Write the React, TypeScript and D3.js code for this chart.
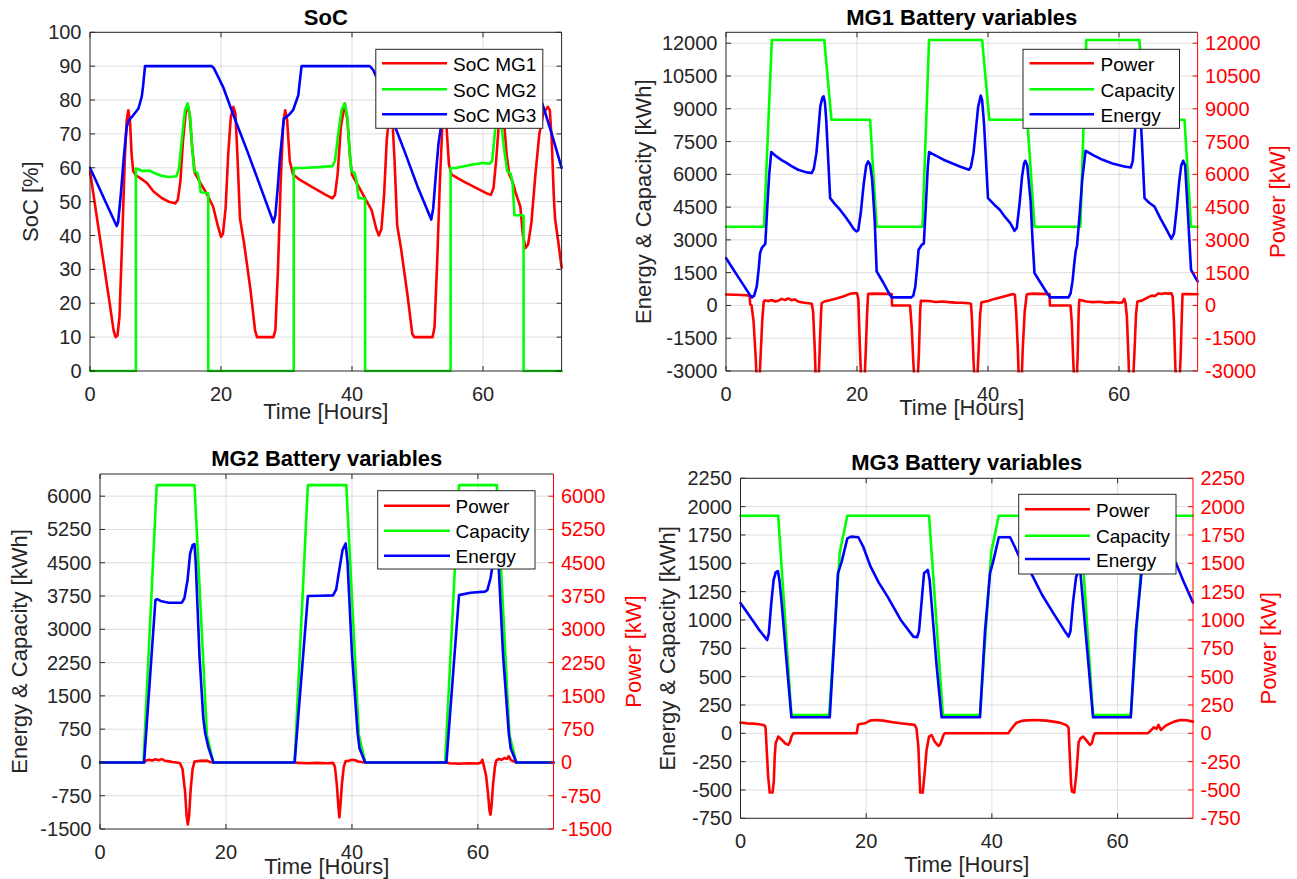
import React from 'react';
import * as d3 from 'd3';

type Pt = [number, number];

// ---------- tick values ----------
const HOUR_TICKS = [0, 20, 40, 60];
const SOC_TICKS = [0, 10, 20, 30, 40, 50, 60, 70, 80, 90, 100];
const MG1_TICKS = [-3000, -1500, 0, 1500, 3000, 4500, 6000, 7500, 9000, 10500, 12000];
const MG2_TICKS = [-1500, -750, 0, 750, 1500, 2250, 3000, 3750, 4500, 5250, 6000];
const MG3_TICKS = [-750, -500, -250, 0, 250, 500, 750, 1000, 1250, 1500, 1750, 2000, 2250];

// ---------- SoC [%] vs time [h] ----------
const socMG1: Pt[] = [
  [0, 59], [1, 46], [2, 33], [3, 20], [3.6, 12], [3.9, 10], [4.2, 10.5], [4.5, 16], [4.9, 38], [5.3, 62], [5.6, 74], [5.85, 77],
  [6.1, 74], [6.35, 64], [6.6, 59], [7, 57.8], [8, 56.5], [8.7, 55.5], [9.7, 53], [11, 51], [12, 50], [13, 49.5], [13.4, 50.5],
  [13.8, 56], [14.2, 68], [14.6, 76], [14.9, 78.5], [15.2, 76], [15.6, 66], [16, 58.5], [17, 55], [17.8, 52.4], [18.8, 48.5],
  [19.5, 43], [20, 39.6], [20.3, 40.5], [20.7, 48], [21.1, 64], [21.5, 75], [21.9, 78], [22.2, 76], [22.5, 64], [22.9, 45],
  [23.5, 38], [24.5, 24], [25.2, 12], [25.5, 10], [28, 10], [28.3, 12], [28.7, 30], [29.1, 55], [29.5, 73], [29.8, 77],
  [30.1, 74], [30.5, 62], [31, 58], [32, 56.5], [34, 54.2], [36, 52], [37, 51], [37.4, 52], [37.8, 58], [38.3, 72], [38.9, 79],
  [39.3, 74], [39.7, 63], [40, 58], [41, 54.5], [42, 51], [43, 47.5], [43.7, 42], [44.1, 40], [44.5, 42], [44.9, 52], [45.3, 68],
  [45.8, 78], [46.1, 77], [46.5, 62], [46.9, 43], [47.5, 36], [48.5, 22], [49.2, 11], [49.5, 10], [52.3, 10], [52.6, 13],
  [53, 32], [53.4, 55], [53.8, 73], [54.1, 77], [54.4, 73], [54.8, 61], [55.2, 58], [57, 56], [59, 54], [60.5, 52.5], [61.2, 52],
  [61.6, 54], [62, 62], [62.5, 75], [62.8, 78], [63.2, 74], [63.6, 64], [64, 58], [64.5, 56], [65, 52.5], [65.7, 48.5],
  [66.1, 40], [66.5, 36.3], [66.9, 37.5], [67.4, 44], [68, 58], [68.6, 70], [69.2, 76], [69.9, 78], [70.2, 77], [70.5, 68],
  [70.8, 52], [71, 45], [71.5, 38], [72, 30.5],
];
const socMG2: Pt[] = [
  [0, 0], [7.0, 0], [7.0, 59.8], [7.5, 59.5], [8, 59], [9, 59.2], [10, 58.3], [11, 57.6], [12, 57.3], [13.2, 57.5], [13.6, 60],
  [14, 68], [14.5, 77], [14.9, 79], [15.3, 75], [15.6, 66], [15.9, 59], [16.4, 58.5], [16.7, 56], [16.9, 52.8], [18.05, 52.5],
  [18.05, 0], [31.1, 0], [31.1, 59.9], [33, 60], [35, 60.2], [37, 60.5], [37.4, 62], [37.9, 70], [38.4, 77], [38.9, 79],
  [39.3, 75], [39.6, 66], [39.9, 59], [40.4, 58.5], [40.7, 56], [41, 51], [41.8, 51], [42, 50.8], [42, 0], [55.05, 0],
  [55.05, 59.9], [56, 60], [58, 60.8], [60, 61.4], [61, 61.2], [61.4, 62], [61.8, 70], [62.2, 78], [62.6, 76], [63.2, 66],
  [63.7, 59], [64.2, 58.3], [64.5, 56], [64.8, 46], [66, 46], [66.2, 45.8], [66.2, 0], [72, 0],
];
const socMG3: Pt[] = [
  [0, 60], [1, 55.8], [2, 51.5], [3, 47.3], [4.07, 42.8], [4.3, 44], [4.7, 52], [5.2, 64], [5.6, 72], [5.9, 74], [6.6, 75.5],
  [7.4, 77.5], [7.9, 81], [8.1, 84], [8.4, 90], [18.6, 90], [18.9, 89.4], [19.4, 87.5], [20.4, 83.5], [21.9, 75.5], [24, 65],
  [26, 54.5], [28, 43.9], [28.3, 46], [28.7, 55], [29, 63], [29.6, 74.5], [30.3, 75.5], [31, 77], [31.8, 81.4], [32, 85],
  [32.3, 90], [42.7, 90], [43.2, 89], [43.8, 86.5], [46.5, 72.5], [48, 65], [50, 54.5], [52.1, 44.7], [52.4, 48], [52.8, 58],
  [53.2, 67], [53.6, 72.5], [54.2, 75.5], [55, 77.5], [55.7, 81], [56, 85], [56.3, 90], [66.7, 90], [67, 89.4], [67.5, 87.5],
  [69.3, 77.5], [70.5, 70], [72, 60],
];

// ---------- MG1 battery ----------
const mg1Capacity: Pt[] = [
  [0, 3600], [5.8, 3600], [7.0, 12150], [15.0, 12150], [16.1, 8500], [22.0, 8500], [23.0, 3600], [30.0, 3600], [31.0, 12150],
  [39.1, 12150], [40.2, 8500], [46.0, 8500], [47.1, 3600], [54.1, 3600], [55.0, 12150], [63.1, 12150], [64.1, 8500],
  [70.0, 8500], [71.0, 3600], [72, 3600],
];
const mg1Energy: Pt[] = [
  [0, 2170], [1, 1700], [2, 1240], [3, 780], [3.7, 450], [3.95, 370], [4.3, 450], [4.7, 870], [5.0, 1700], [5.2, 2400],
  [5.5, 2650], [5.8, 2750], [6.0, 2820], [6.3, 4500], [6.6, 6000], [6.9, 7020], [7.7, 6820], [8.5, 6650], [9.3, 6515],
  [10, 6380], [11, 6210], [12.3, 6090], [13.1, 6060], [13.4, 6250], [13.8, 6970], [14.1, 8000], [14.4, 9110], [14.7, 9500],
  [14.9, 9570], [15.1, 9300], [15.3, 8500], [15.6, 6700], [15.9, 4910], [16.6, 4650], [17.4, 4380], [18.2, 4070], [18.9, 3770],
  [19.5, 3500], [19.9, 3390], [20.2, 3450], [20.6, 4300], [21.0, 5500], [21.4, 6400], [21.7, 6590], [22.0, 6450], [22.3, 5800],
  [22.7, 3920], [23.0, 1560], [24, 1050], [25.0, 500], [25.3, 370], [28.3, 370], [28.6, 450], [28.9, 870], [29.2, 1800],
  [29.4, 2550], [29.9, 2780], [30.2, 2830], [30.5, 4500], [30.8, 6300], [31.0, 7020], [33.2, 6670], [35.7, 6360], [37.1, 6210],
  [37.4, 6350], [37.8, 7000], [38.2, 8200], [38.5, 9100], [38.9, 9600], [39.1, 9400], [39.4, 8300], [39.7, 6600], [40.0, 4910],
  [41.0, 4600], [41.8, 4380], [42.6, 4050], [43.4, 3770], [44.05, 3416], [44.4, 3550], [44.8, 4600], [45.2, 5900], [45.5, 6500],
  [45.7, 6620], [46.0, 6400], [46.5, 4800], [46.8, 3000], [47.1, 1480], [48, 1050], [49, 570], [49.5, 370], [52.3, 370],
  [52.6, 550], [52.9, 1100], [53.2, 2000], [53.4, 2500], [53.6, 2745], [54.0, 4200], [54.4, 5800], [54.9, 7076], [56.2, 6860],
  [57.5, 6664], [59, 6500], [60.8, 6360], [61.8, 6313], [62.1, 6600], [62.4, 7800], [62.7, 9000], [62.95, 9580], [63.2, 9200],
  [63.5, 7500], [63.9, 4910], [64.6, 4700], [65.4, 4530], [66.3, 4000], [67.2, 3500], [68.0, 3050], [68.4, 3300], [68.8, 4400],
  [69.2, 5700], [69.5, 6400], [69.8, 6620], [70.1, 6400], [70.5, 4300], [71.0, 1630], [72, 1100],
];
const mg1Power: Pt[] = [
  [0, 500], [1.5, 490], [3, 470], [3.6, 450], [3.7, 50], [3.9, 0], [4.2, -700], [4.5, -2200], [4.75, -3800], [5.05, -3800],
  [5.3, -2200], [5.55, -600], [5.75, 150], [5.9, 230], [6.5, 200], [7, 250], [7.5, 180], [8, 220], [8.5, 300], [9, 250],
  [9.5, 320], [10, 240], [10.5, 280], [11, 180], [11.5, 150], [12, 120], [12.6, 100], [13.1, 80], [13.3, -300], [13.55, -2000],
  [13.75, -3800], [14.1, -3800], [14.3, -2000], [14.5, -400], [14.6, 100], [15, 180], [16, 250], [17, 330], [18, 420],
  [18.9, 530], [19.5, 560], [20.0, 560], [20.2, 300], [20.45, -2000], [20.7, -3800], [21.1, -3800], [21.35, -2000],
  [21.55, -300], [21.7, 530], [23, 540], [24.5, 530], [25.3, 520], [25.35, 0], [28.1, 0], [28.35, -1000], [28.6, -2600],
  [28.85, -3800], [29.2, -3800], [29.45, -2200], [29.65, -200], [29.75, 210], [31, 200], [32, 160], [33, 180], [34, 150],
  [35, 130], [36, 120], [37, 100], [37.4, 80], [37.55, -600], [37.8, -2600], [38.0, -3800], [38.3, -3800], [38.55, -2200],
  [38.8, -400], [39.0, 140], [40, 200], [41, 300], [42, 380], [43, 460], [43.9, 520], [44.1, 480], [44.3, -300], [44.55, -2000],
  [44.75, -3800], [45.1, -3800], [45.3, -2000], [45.6, -300], [45.9, 480], [46, 520], [47, 540], [48, 530], [49.4, 520],
  [49.45, 0], [52.6, 0], [52.8, -800], [53.0, -2400], [53.2, -3800], [53.5, -3800], [53.7, -2200], [53.85, -200], [53.95, 260],
  [55, 180], [56, 150], [57, 170], [58, 130], [59, 150], [60, 120], [60.5, 140], [60.8, 300], [61.0, 100], [61.2, -500],
  [61.45, -2400], [61.6, -3800], [62.1, -3800], [62.35, -2200], [62.6, -400], [62.8, 180], [63.5, 220], [64, 300], [64.5, 380],
  [65, 450], [65.5, 430], [66, 550], [66.5, 520], [67, 560], [67.5, 540], [68.0, 560], [68.2, 400], [68.4, -800], [68.6, -2800],
  [68.8, -3800], [69.2, -3800], [69.4, -2400], [69.6, -400], [69.7, 520], [70.5, 520], [72, 510],
];

// ---------- MG2 battery ----------
const mg2Capacity: Pt[] = [
  [0, 0], [6.9, 0], [9.0, 6250], [15.0, 6250], [16.97, 620], [18.0, 0], [30.9, 0], [33.0, 6250], [39.1, 6250], [41.1, 620],
  [42.1, 0], [54.8, 0], [57.0, 6250], [63.0, 6250], [65.0, 620], [66.1, 0], [72, 0],
];
const mg2Energy: Pt[] = [
  [0, 0], [7.0, 0], [8.8, 3660], [9.1, 3680], [9.6, 3640], [10.9, 3600], [13.0, 3600], [13.4, 3700], [13.9, 4110], [14.3, 4700],
  [14.7, 4900], [15.0, 4920], [15.2, 4500], [15.8, 2385], [16.4, 1000], [16.7, 660], [17.2, 345], [18.0, 0], [30.9, 0],
  [33.0, 3750], [35, 3755], [37, 3765], [37.5, 3900], [37.9, 4260], [38.5, 4785], [39.0, 4935], [39.3, 4500], [40.0, 2460],
  [40.9, 660], [41.2, 322], [42.1, 0], [55.0, 0], [57.0, 3770], [58.8, 3825], [61.1, 3850], [61.5, 3885], [62.0, 4150],
  [62.4, 4500], [62.8, 4850], [63.0, 4900], [63.3, 4400], [64.0, 2400], [64.9, 660], [65.2, 320], [66.1, 0], [72, 0],
];
const mg2Power: Pt[] = [
  [0, 0], [7.0, 0], [7.2, 40], [7.8, 60], [8.3, 45], [8.8, 70], [9.3, 50], [9.8, 75], [10.3, 40], [10.8, 30], [11.5, 10],
  [12.2, 0], [12.7, -20], [13.1, -150], [13.5, -650], [13.75, -1200], [13.94, -1400], [14.15, -1200], [14.4, -600],
  [14.7, -150], [15.0, 20], [15.5, 30], [16, 40], [16.5, 35], [17, 40], [17.5, 10], [18, 0], [31, 0], [31.5, -10], [33, -20],
  [34.5, -10], [36, -20], [37, -10], [37.3, -100], [37.6, -500], [37.85, -1000], [38.0, -1237], [38.15, -1000], [38.4, -500],
  [38.7, -100], [39.0, 30], [39.5, 40], [40, 60], [40.5, 50], [41, 20], [41.5, 10], [42, 0], [55, 0], [55.5, -20], [57, -30],
  [58.5, -20], [60, -25], [60.5, 0], [60.7, 60], [60.9, -50], [61.3, -300], [61.6, -700], [61.85, -1100], [62.0, -1177],
  [62.15, -1000], [62.4, -500], [62.7, -100], [62.9, 40], [63.3, 80], [63.8, 60], [64.2, 100], [64.6, 80], [64.9, 140],
  [65.2, 60], [65.6, 30], [66, 0], [72, 0],
];

// ---------- MG3 battery ----------
const mg3Capacity: Pt[] = [
  [0, 1920], [6.0, 1920], [8.1, 160], [14.1, 160], [15.8, 1600], [17.0, 1920], [30.0, 1920], [32.2, 160], [38.1, 160],
  [39.9, 1600], [41.1, 1920], [54.0, 1920], [56.1, 160], [62.1, 160], [63.9, 1600], [65.1, 1920], [72, 1920],
];
const mg3Energy: Pt[] = [
  [0, 1150], [1, 1070], [2, 990], [3, 910], [4.0, 840], [4.24, 823], [4.5, 880], [4.9, 1150], [5.27, 1353], [5.6, 1420],
  [5.95, 1432], [6.2, 1350], [6.6, 1118], [7.3, 650], [8.1, 141], [14.2, 141], [15.0, 900], [15.5, 1410], [16.1, 1515],
  [17.0, 1720], [17.6, 1735], [18.75, 1730], [19.5, 1650], [20.7, 1470], [22, 1330], [23.4, 1206], [25.5, 1000], [27.5, 853],
  [28.1, 847], [28.4, 900], [28.8, 1150], [29.2, 1412], [29.8, 1441], [30.1, 1350], [30.4, 1150], [31.2, 600], [32, 141],
  [38.1, 141], [38.9, 900], [39.7, 1411], [40.2, 1515], [41.1, 1730], [42.9, 1730], [43.6, 1650], [44.5, 1540], [46.3, 1406],
  [48, 1220], [50, 1040], [51.5, 910], [52.2, 853], [52.5, 900], [52.9, 1150], [53.4, 1380], [53.8, 1430], [54.1, 1412],
  [54.5, 1150], [55.3, 650], [56.1, 141], [62.1, 141], [62.9, 900], [63.8, 1411], [64.2, 1515], [65.1, 1730], [66.9, 1730],
  [67.6, 1650], [68.4, 1580], [69.3, 1500], [70.5, 1340], [72, 1153],
];
const mg3Power: Pt[] = [
  [0, 94], [1, 88], [2, 85], [3, 80], [3.6, 74], [3.9, 65], [4.0, 40], [4.2, -176], [4.4, -382], [4.65, -523], [5.1, -523],
  [5.3, -420], [5.45, -200], [5.6, -88], [6.0, -29], [6.3, -44], [6.8, -70], [7.1, -88], [7.6, -103], [7.9, -74], [8.1, -29],
  [8.4, 0], [18.5, 0], [18.7, 74], [19, 82], [19.8, 88], [20.6, 112], [21.4, 118], [22.7, 112], [24, 100], [25.4, 88],
  [27.7, 74], [28, 44], [28.3, -118], [28.5, -400], [28.6, -523], [29.0, -523], [29.3, -350], [29.6, -150], [30, -29],
  [30.4, -15], [30.9, -74], [31.5, -112], [31.8, -94], [32.3, -15], [32.5, 0], [42.6, 0], [42.9, 24], [43.4, 60], [43.9, 94],
  [45, 112], [46.7, 118], [48.7, 112], [50.8, 94], [51.8, 74], [52.2, 50], [52.4, -200], [52.6, -450], [52.75, -515],
  [53.1, -523], [53.4, -380], [53.6, -235], [53.8, -80], [54.1, -44], [54.5, -29], [55, -60], [55.6, -103], [55.9, -88],
  [56.2, -20], [56.4, 0], [64.8, 0], [65.2, 20], [65.8, 53], [66.2, 40], [66.5, 74], [66.9, 29], [67.3, 50], [67.6, 65],
  [68.3, 85], [69, 103], [70, 118], [71, 115], [72, 103],
];

const RED = '#ff0000';
const GREEN = '#00ff00';
const BLUE = '#0000ff';
const AX = '#262626';
const FONT = '"Liberation Sans", Arial, Helvetica, sans-serif';

interface Box { l: number; r: number; t: number; b: number }
interface Series { name: string; data: Pt[]; color: string }
interface LegendCfg { x0: number; y0: number; x1: number; y1: number; lx0: number; lx1: number; tx: number; rows: number[] }
interface PanelProps {
  id: string;
  box: Box;
  yDomain: [number, number];
  yTicks: number[];
  series: Series[];
  legendOrder: Series[];
  title: string;
  titleY: number;
  xLabelY: number;
  yLabel: string;
  yLabelX: number;
  dual: boolean;
  rightLabelX?: number;
  legend: LegendCfg;
}

function Panel(p: PanelProps) {
  const { box, yDomain, yTicks } = p;
  const x = d3.scaleLinear().domain([0, 72]).range([box.l, box.r]);
  const y = d3.scaleLinear().domain(yDomain).range([box.b, box.t]);
  const line = d3.line<Pt>().x((d) => x(d[0])).y((d) => y(d[1]));
  const cx = (box.l + box.r) / 2;
  const cy = (box.t + box.b) / 2;
  const tl = 5;
  const rightColor = p.dual ? RED : AX;
  return (
    <g>
      <defs>
        <clipPath id={p.id}>
          <rect x={box.l - 1.5} y={box.t - 1.5} width={box.r - box.l + 3} height={box.b - box.t + 3} />
        </clipPath>
      </defs>
      <rect x={box.l} y={box.t} width={box.r - box.l} height={box.b - box.t} fill="#ffffff" />
      {/* grid */}
      <g stroke={AX} strokeOpacity={0.15} strokeWidth={1}>
        {HOUR_TICKS.filter((t) => t > 0).map((t) => (
          <line key={'gx' + t} x1={x(t)} x2={x(t)} y1={box.t} y2={box.b} />
        ))}
        {yTicks.filter((t) => t !== yDomain[0]).map((t) => (
          <line key={'gy' + t} x1={box.l} x2={box.r} y1={y(t)} y2={y(t)} />
        ))}
      </g>
      {/* data */}
      <g clipPath={`url(#${p.id})`} fill="none" strokeWidth={2.6} strokeLinejoin="round" strokeLinecap="round">
        {p.series.map((s) => (
          <path key={s.name} d={line(s.data) || ''} stroke={s.color} />
        ))}
      </g>
      {/* axes */}
      <g strokeWidth={1} fill="none">
        <line x1={box.l} x2={box.r} y1={box.b} y2={box.b} stroke={AX} />
        <line x1={box.l} x2={box.r} y1={box.t} y2={box.t} stroke={AX} />
        <line x1={box.l} x2={box.l} y1={box.t} y2={box.b} stroke={AX} />
        <line x1={box.r} x2={box.r} y1={box.t} y2={box.b} stroke={rightColor} />
        {HOUR_TICKS.map((t) => (
          <g key={'tx' + t}>
            <line x1={x(t)} x2={x(t)} y1={box.b} y2={box.b - tl} stroke={AX} />
            <line x1={x(t)} x2={x(t)} y1={box.t} y2={box.t + tl} stroke={AX} />
          </g>
        ))}
        {yTicks.map((t) => (
          <g key={'ty' + t}>
            <line x1={box.l} x2={box.l + tl} y1={y(t)} y2={y(t)} stroke={AX} />
            <line x1={box.r} x2={box.r - tl} y1={y(t)} y2={y(t)} stroke={rightColor} />
          </g>
        ))}
      </g>
      {/* tick labels */}
      <g fontFamily={FONT} fontSize={20}>
        {HOUR_TICKS.map((t) => (
          <text key={'lx' + t} x={x(t)} y={box.b + 29.5} textAnchor="middle" fill={AX}>{t}</text>
        ))}
        {yTicks.map((t) => (
          <text key={'ly' + t} x={box.l - 8.5} y={y(t)} textAnchor="end" dominantBaseline="central" fill={AX}>{t}</text>
        ))}
        {p.dual && yTicks.map((t) => (
          <text key={'lr' + t} x={box.r + 7.5} y={y(t)} textAnchor="start" dominantBaseline="central" fill={RED}>{t}</text>
        ))}
      </g>
      {/* labels */}
      <text x={cx} y={p.titleY} textAnchor="middle" fontFamily={FONT} fontSize={22} fontWeight="bold" fill="#000">{p.title}</text>
      <text x={cx} y={p.xLabelY} textAnchor="middle" fontFamily={FONT} fontSize={22} fill={AX}>Time [Hours]</text>
      <text transform={`translate(${p.yLabelX},${cy}) rotate(-90)`} textAnchor="middle" dominantBaseline="central" fontFamily={FONT} fontSize={22} fill={AX}>{p.yLabel}</text>
      {p.rightLabelX !== undefined && (
        <text transform={`translate(${p.rightLabelX},${cy}) rotate(-90)`} textAnchor="middle" dominantBaseline="central" fontFamily={FONT} fontSize={22} fill={RED}>Power [kW]</text>
      )}
      {/* legend */}
      <g>
        <rect x={p.legend.x0} y={p.legend.y0} width={p.legend.x1 - p.legend.x0} height={p.legend.y1 - p.legend.y0} fill="#fff" stroke={AX} strokeWidth={1} />
        {p.legendOrder.map((s, i) => (
          <g key={'lg' + s.name}>
            <line x1={p.legend.lx0} x2={p.legend.lx1} y1={p.legend.rows[i]} y2={p.legend.rows[i]} stroke={s.color} strokeWidth={2.6} />
            <text x={p.legend.tx} y={p.legend.rows[i] + 1} dominantBaseline="central" fontFamily={FONT} fontSize={19} fill="#000">{s.name}</text>
          </g>
        ))}
      </g>
    </g>
  );
}

export default function App() {
  const socSeries: Series[] = [
    { name: 'SoC MG1', data: socMG1, color: RED },
    { name: 'SoC MG2', data: socMG2, color: GREEN },
    { name: 'SoC MG3', data: socMG3, color: BLUE },
  ];
  const mg1P = { name: 'Power', data: mg1Power, color: RED };
  const mg1C = { name: 'Capacity', data: mg1Capacity, color: GREEN };
  const mg1E = { name: 'Energy', data: mg1Energy, color: BLUE };
  const mg2P = { name: 'Power', data: mg2Power, color: RED };
  const mg2C = { name: 'Capacity', data: mg2Capacity, color: GREEN };
  const mg2E = { name: 'Energy', data: mg2Energy, color: BLUE };
  const mg3P = { name: 'Power', data: mg3Power, color: RED };
  const mg3C = { name: 'Capacity', data: mg3Capacity, color: GREEN };
  const mg3E = { name: 'Energy', data: mg3Energy, color: BLUE };

  return (
    <svg width={1297} height={879} style={{ position: 'absolute', left: 0, top: 0, background: '#fff' }}>
      <rect x={0} y={0} width={1297} height={879} fill="#fff" />
      <Panel
        id="clipSoc"
        box={{ l: 90, r: 561.6, t: 32.3, b: 371 }}
        yDomain={[0, 100]}
        yTicks={SOC_TICKS}
        series={socSeries}
        legendOrder={socSeries}
        title="SoC"
        titleY={25}
        xLabelY={419}
        yLabel="SoC [%]"
        yLabelX={30}
        dual={false}
        legend={{ x0: 375.8, y0: 49.3, x1: 542.8, y1: 128.3, lx0: 382, lx1: 447, tx: 453, rows: [63.3, 89.3, 114.3] }}
      />
      <Panel
        id="clipMg1"
        box={{ l: 726, r: 1197.6, t: 32.3, b: 371 }}
        yDomain={[-3000, 12500]}
        yTicks={MG1_TICKS}
        series={[mg1P, mg1C, mg1E]}
        legendOrder={[mg1P, mg1C, mg1E]}
        title="MG1 Battery variables"
        titleY={25}
        xLabelY={415}
        yLabel="Energy & Capacity [kWh]"
        yLabelX={643.7}
        dual={true}
        rightLabelX={1277}
        legend={{ x0: 1023, y0: 49.3, x1: 1179.5, y1: 128.3, lx0: 1029.5, lx1: 1094, tx: 1100.6, rows: [63.3, 89.3, 114.3] }}
      />
      <Panel
        id="clipMg2"
        box={{ l: 100, r: 553.5, t: 474, b: 829 }}
        yDomain={[-1500, 6500]}
        yTicks={MG2_TICKS}
        series={[mg2P, mg2C, mg2E]}
        legendOrder={[mg2P, mg2C, mg2E]}
        title="MG2 Battery variables"
        titleY={466}
        xLabelY={873.5}
        yLabel="Energy & Capacity [kWh]"
        yLabelX={19}
        dual={true}
        rightLabelX={633}
        legend={{ x0: 377.7, y0: 490.7, x1: 535, y1: 569, lx0: 384, lx1: 450, tx: 455.6, rows: [505.7, 530.7, 555.7] }}
      />
      <Panel
        id="clipMg3"
        box={{ l: 740.5, r: 1193, t: 478.3, b: 818.3 }}
        yDomain={[-750, 2250]}
        yTicks={MG3_TICKS}
        series={[mg3P, mg3C, mg3E]}
        legendOrder={[mg3P, mg3C, mg3E]}
        title="MG3 Battery variables"
        titleY={470}
        xLabelY={871.5}
        yLabel="Energy & Capacity [kWh]"
        yLabelX={667.4}
        dual={true}
        rightLabelX={1268.7}
        legend={{ x0: 1018.7, y0: 494.3, x1: 1176, y1: 574, lx0: 1025, lx1: 1090, tx: 1096, rows: [509.3, 535.7, 559] }}
      />
    </svg>
  );
}
